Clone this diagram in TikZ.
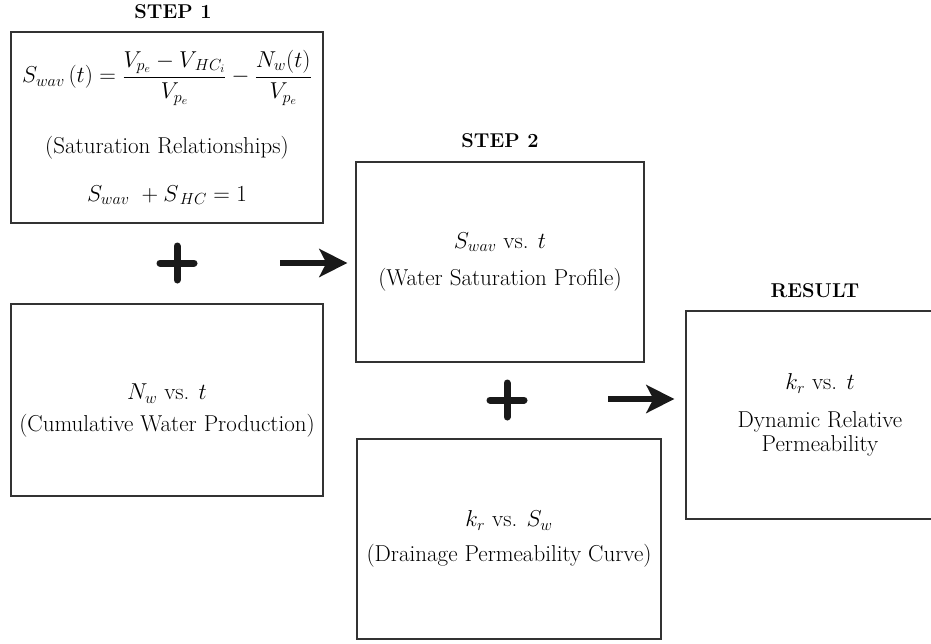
\RequirePackage{fix-cm}
\documentclass[tikz,border=0pt]{standalone}
\usepackage{amsmath}
\usetikzlibrary{arrows.meta,positioning}

\begin{document}
\begin{tikzpicture}[
  x=1pt, y=-1pt,
  font=\fontsize{23}{26}\selectfont,
  node distance=12pt,
  box/.style={
    draw=black!80, line width=1.3pt,
    align=center, inner sep=0pt
  },
  steplabel/.style={font=\fontsize{20}{23}\selectfont\bfseries, inner sep=0pt},
  arr/.style={-{Stealth[length=28pt,width=28pt,inset=7pt]}, line width=6.5pt, black!90},
  cross/.style={line width=7pt, line cap=round, black!90}
]
\useasboundingbox (0,0) rectangle (931,643);

% Step 1
\node[box, minimum width=312pt, minimum height=191pt] (s1) at (167,127.5) {
  $\displaystyle S_{wav}\,(t) = \frac{V_{p_e} - V_{\,HC_i}}{V_{p_e}} - \frac{N_w(t)}{V_{p_e}}$\\[30pt]
  (Saturation Relationships)\\[22pt]
  $S_{wav}\ + S_{\,HC} = 1$
};

% Cumulative water
\node[box, minimum width=312pt, minimum height=192pt] (nw) at (167,400) {};
\node[align=center, inner sep=0pt] (nwtext) at ([yshift=-11pt]nw.center) {
  $N_w$ vs. $t$\\[6pt]
  (Cumulative Water Production)
};

% Step 2
\node[box, minimum width=288pt, minimum height=200pt] (s2) at (500,262) {
  $S_{wav}$ vs. $t$\\[11pt]
  (Water Saturation Profile)
};

% Drainage curve
\node[box, minimum width=304pt, minimum height=200pt] (kr) at (509,539) {
  $k_r$ vs. $S_w$\\[9pt]
  (Drainage Permeability Curve)
};

% Result
\node[box, minimum width=268pt, minimum height=208pt] (res) at (820,415) {
  $k_r$ vs. $t$\\[12pt]
  Dynamic Relative\\[-2pt]
  Permeability
};

% Labels
\node[steplabel, above=12pt of s1, xshift=6pt] {STEP 1};
\node[steplabel, above=13pt of s2] {STEP 2};
\node[steplabel, above=12pt of res, xshift=-5pt] {RESULT};

% Plus signs
\coordinate (p1) at (177,263);
\coordinate (p2) at (507,400);
\foreach \p in {p1,p2} {
  \draw[cross] ([xshift=-17pt]\p) -- ([xshift=17pt]\p)
               ([yshift=-17pt]\p) -- ([yshift=17pt]\p);
}

% Arrows
\coordinate (a1) at (280,263);
\coordinate (a2) at (608,399);
\draw[arr, shorten >=8pt] (a1) -- (a1 -| s2.west);
\draw[arr, shorten >=11pt] (a2) -- (a2 -| res.west);

\end{tikzpicture}
\end{document}
